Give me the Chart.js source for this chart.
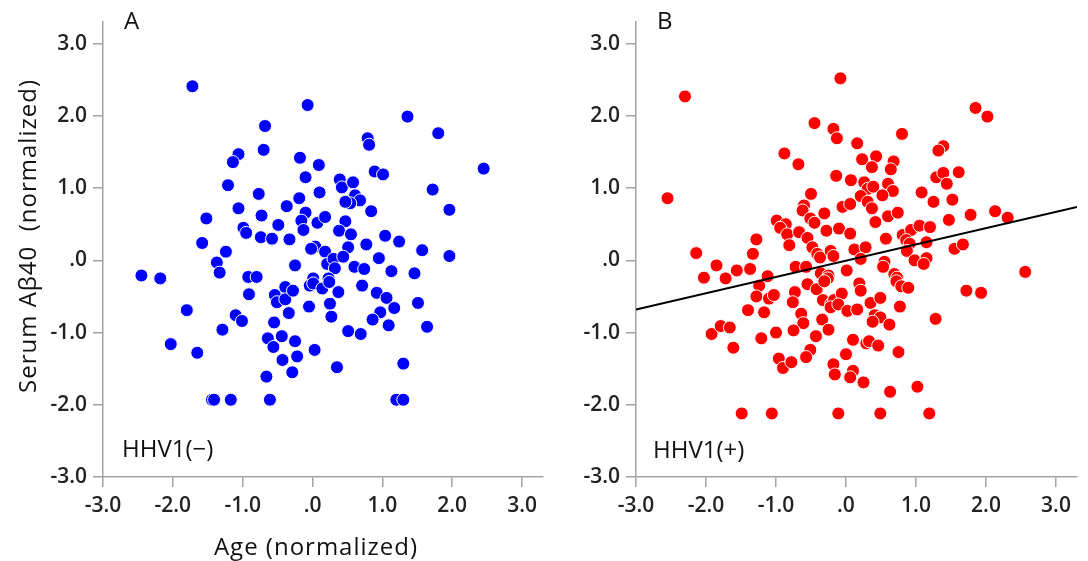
<!DOCTYPE html>
<html>
<head>
<meta charset="utf-8">
<script src="https://cdn.jsdelivr.net/npm/chart.js@4.4.0/dist/chart.umd.min.js"></script>
<style>
  html, body { margin: 0; padding: 0; background: #fff; }
  #wrap { position: relative; width: 1088px; height: 561px; overflow: hidden; }
  canvas { position: absolute; top: 0; }
  #panelA { left: 0; }
  #panelB { left: 550px; }
</style>
</head>
<body>
<div id="wrap">
  <canvas id="panelA" width="560" height="561"></canvas>
  <canvas id="panelB" width="538" height="561"></canvas>
</div>
<script>
// ---------- data ----------
const tickValues = [-3, -2, -1, 0, 1, 2, 3];
const tickLabels = ["-3.0", "-2.0", "-1.0", ".0", "1.0", "2.0", "3.0"];

// panel A: HHV1(-)
const ageNeg = [
  -1.72, -0.07, -0.68, -0.70, -1.06, -1.14, -0.18, 0.09, -0.10, -1.21,
  -0.77, 0.10, -0.19, -0.37, -1.06, -0.73, -0.10, -0.16, -0.13, 0.07,
  0.18, -1.52, -0.49, -0.99, -0.95, -0.74, -0.58, -0.33, -1.58, -1.24,
  -1.37, -1.33, -0.25, 0.04, -0.02, 0.18, 0.21, -2.45, -2.18, -0.92,
  -0.80, 1.36, 1.80, 0.79, 0.81, 2.45, 0.89, 1.01, 0.39, 0.42,
  0.58, 1.72, 0.61, 0.68, 0.54, 0.47, 1.96, 0.84, 0.47, 0.38,
  0.55, 1.04, 1.24, 0.77, 0.51, 0.30, 0.32, 0.44, 1.57, 1.96,
  0.95, 0.60, 0.74, 1.13, 1.46, 0.01, 0.23, -0.91, -1.80, -1.10,
  -1.01, -0.54, -0.51, -0.39, -0.39, -0.28, -0.34, -0.04, 0.01, -0.05,
  0.14, 0.24, 0.25, 0.27, -0.55, -1.29, -2.03, -1.65, -0.64, -0.56,
  -0.44, -0.25, -0.43, -0.22, -0.29, 0.03, -0.66, -0.61, -1.44, -1.41,
  -1.17, 0.37, 0.71, 0.92, 1.06, 1.17, 0.97, 0.86, 1.09, 0.51,
  0.69, 1.51, 1.64, 0.35, 1.30, 1.20, 1.30
];
const abNeg = [
  2.41, 2.15, 1.86, 1.53, 1.47, 1.36, 1.42, 1.32, 1.15, 1.04,
  0.92, 0.94, 0.86, 0.75, 0.72, 0.62, 0.66, 0.55, 0.42, 0.52,
  0.60, 0.58, 0.49, 0.45, 0.38, 0.32, 0.30, 0.29, 0.24, 0.12,
  -0.03, -0.17, -0.07, 0.19, 0.16, 0.12, -0.05, -0.21, -0.25, -0.23,
  -0.23, 1.99, 1.76, 1.69, 1.60, 1.27, 1.23, 1.19, 1.12, 1.01,
  1.08, 0.98, 0.90, 0.83, 0.79, 0.81, 0.70, 0.68, 0.54, 0.41,
  0.36, 0.34, 0.26, 0.22, 0.18, 0.02, -0.11, 0.05, 0.14, 0.06,
  0.03, -0.09, -0.12, -0.15, -0.18, -0.25, -0.25, -0.47, -0.69, -0.76,
  -0.84, -0.48, -0.58, -0.37, -0.54, -0.42, -0.73, -0.35, -0.32, -0.64,
  -0.39, -0.30, -0.60, -0.78, -0.86, -0.96, -1.16, -1.28, -1.08, -1.20,
  -1.05, -1.12, -1.38, -1.33, -1.55, -1.24, -1.61, -1.93, -1.93, -1.93,
  -1.93, -0.44, -0.35, -0.45, -0.52, -0.66, -0.72, -0.82, -0.90, -0.98,
  -1.02, -0.59, -0.92, -1.48, -1.43, -1.93, -1.93
];

// panel B: HHV1(+)
const agePos = [
  -2.30, -2.55, -0.08, -0.45, -0.18, -0.13, -0.88, -0.68, -0.14, -0.50,
  -0.60, -0.62, -0.31, -0.51, -0.45, -0.99, -0.86, -0.94, -0.84, -0.81,
  -0.67, -0.55, -0.28, -0.10, -0.05, -1.28, -1.33, -2.14, -0.48, -0.41,
  -0.37, -0.22, -0.18, -1.85, -1.56, -1.37, -0.72, -0.57, -2.03, -1.72,
  -1.12, -0.36, -0.25, -1.24, -1.28, -1.10, -1.03, -0.55, -0.73, -0.76,
  -1.40, -1.17, -0.64, -0.61, -0.42, -0.33, -0.26, -0.31, -0.21, -0.17,
  -0.22, -0.06, -0.11, -0.34, -0.25, -0.43, -0.75, -1.00, -1.21, -1.92,
  -1.79, -1.66, -1.61, -0.51, -0.57, -0.96, -0.90, -0.78, -0.18, -0.16,
  0.00, -1.49, -1.06, -0.11, 1.85, 2.02, 0.80, 0.16, 1.39, 1.32,
  0.23, 0.43, 0.37, 0.68, 0.64, 0.07, 0.26, 0.31, 0.39, 0.60,
  0.67, 0.52, 0.21, 0.31, 0.37, 0.06, 1.29, 1.39, 1.61, 1.44,
  1.08, 1.25, 1.52, 0.60, 0.74, 0.42, 1.47, 1.78, 2.13, 2.31,
  0.06, 0.57, 0.81, 0.93, 1.05, 1.20, 0.86, 0.91, 0.87, 1.15,
  0.12, 0.28, 0.21, 0.55, 0.53, 0.98, 1.15, 1.11, 1.55, 1.67,
  2.56, 0.01, 0.69, 0.73, 1.72, 1.93, 1.28, 0.19, 0.21, 0.72,
  0.79, 0.89, 0.02, 0.16, 0.35, 0.49, 0.77, 0.41, 0.49, 0.38,
  0.62, 0.10, 0.29, 0.33, 0.46, 0.75, 0.10, 0.06, 0.25, 0.63,
  1.02, 0.49, 1.19
];
const abPos = [
  2.27, 0.86, 2.52, 1.90, 1.82, 1.69, 1.48, 1.33, 1.17, 0.92,
  0.76, 0.69, 0.65, 0.58, 0.52, 0.55, 0.50, 0.45, 0.36, 0.21,
  0.39, 0.31, 0.41, 0.44, 0.74, 0.29, 0.09, 0.10, 0.18, 0.09,
  0.04, 0.13, 0.06, -0.07, -0.14, -0.12, -0.09, -0.09, -0.24, -0.25,
  -0.22, -0.18, -0.21, -0.35, -0.50, -0.53, -0.48, -0.33, -0.44, -0.58,
  -0.69, -0.72, -0.74, -0.87, -0.40, -0.55, -0.25, -0.29, -0.60, -0.55,
  -0.65, -0.46, -0.61, -0.82, -0.96, -1.05, -0.97, -1.00, -1.08, -1.02,
  -0.91, -0.93, -1.21, -1.24, -1.34, -1.36, -1.49, -1.41, -1.44, -1.58,
  -1.30, -2.12, -2.12, -2.12, 2.11, 1.99, 1.75, 1.62, 1.58, 1.52,
  1.40, 1.44, 1.29, 1.37, 1.26, 1.11, 1.08, 0.99, 1.02, 1.06,
  0.96, 0.90, 0.89, 0.81, 0.72, 0.78, 1.15, 1.21, 1.22, 1.06,
  0.94, 0.81, 0.84, 0.61, 0.66, 0.53, 0.56, 0.63, 0.68, 0.59,
  0.37, 0.30, 0.35, 0.42, 0.48, 0.46, 0.28, 0.23, 0.13, 0.25,
  0.15, 0.18, 0.02, -0.02, -0.09, 0.00, 0.03, -0.05, 0.16, 0.22,
  -0.16, -0.14, -0.19, -0.24, -0.42, -0.45, -0.81, -0.32, -0.42, -0.29,
  -0.36, -0.38, -0.70, -0.68, -0.59, -0.52, -0.64, -0.76, -0.79, -0.85,
  -0.89, -1.10, -1.15, -1.12, -1.18, -1.27, -1.53, -1.62, -1.69, -1.82,
  -1.75, -2.12, -2.12
];

// fitted line in panel B (end points)
const fitAge = [-3.0, 3.3];
const fitAb  = [-0.68, 0.74];

// ---------- styling ----------
const AXIS = "#a3a3a3";
const TICK_FONT = { family: "'Open Sans', sans-serif", size: 21, weight: 600 };
const LABEL_FONT = "500 24px 'Open Sans', sans-serif";

const toPoints = (xs, ys) => xs.map((x, i) => ({ x, y: ys[i] }));

// panel letters, group labels and axis titles
const panelText = {
  id: "panelText",
  afterDraw(chart, args, opts) {
    const ctx = chart.ctx;
    for (const t of opts.items || []) {
      ctx.save();
      ctx.font = t.font || LABEL_FONT;
      ctx.letterSpacing = t.spacing || "0px";
      ctx.fillStyle = "#111";
      ctx.textAlign = t.align || "left";
      ctx.textBaseline = t.baseline || "alphabetic";
      ctx.translate(t.x, t.y);
      if (t.rotate) ctx.rotate(t.rotate);
      ctx.fillText(t.text, 0, 0);
      ctx.restore();
    }
  },
};

function axis(fitFn) {
  return {
    type: "linear",
    min: -3,
    max: 3.3,
    afterBuildTicks: (s) => { s.ticks = tickValues.map((v) => ({ value: v })); },
    afterFit: fitFn,
    grid: { drawOnChartArea: false, drawTicks: true, tickLength: 10, color: AXIS, lineWidth: 1.5 },
    border: { display: true, color: AXIS, width: 1.5 },
    ticks: {
      font: TICK_FONT,
      color: "#222",
      padding: 6,
      maxRotation: 0,
      autoSkip: false,
      callback: (v) => tickLabels[tickValues.indexOf(v)],
    },
  };
}

function makePanel(id, datasets, yWidth, padRight, items) {
  return new Chart(document.getElementById(id), {
    type: "scatter",
    data: { datasets },
    options: {
      responsive: false,
      animation: false,
      events: [],
      devicePixelRatio: 1,
      layout: { padding: { top: 22, right: padRight, left: 0, bottom: 0 } },
      plugins: { legend: { display: false }, tooltip: { enabled: false }, panelText: { items } },
      scales: {
        x: axis((s) => { s.height = 84; }),
        y: axis((s) => { s.width = yWidth; }),
      },
    },
    plugins: [panelText],
  });
}

// ---------- panel A ----------
makePanel("panelA", [{
  data: toPoints(ageNeg, abNeg),
  backgroundColor: "#0000ff",
  borderColor: "#ffffff",
  borderWidth: 1,
  pointRadius: 6.5,
}], 103, 17, [
  { text: "A", x: 124, y: 29 },
  { text: "HHV1(−)", x: 122, y: 457 },
  { text: "Serum Aβ40  (normalized)", x: 29, y: 236, rotate: -Math.PI / 2, align: "center", baseline: "middle", spacing: "1px" },
  { text: "Age (normalized)", x: 316, y: 548, align: "center", baseline: "middle", spacing: "1px" },
]);

// ---------- panel B ----------
makePanel("panelB", [
  {
    type: "line",
    data: toPoints(fitAge, fitAb),
    borderColor: "#000",
    borderWidth: 2,
    pointRadius: 0,
    fill: false,
    order: 0,
  },
  {
    data: toPoints(agePos, abPos),
    backgroundColor: "#ff0000",
    borderColor: "#ffffff",
    borderWidth: 1,
    pointRadius: 6.5,
    order: 1,
  },
], 86, 11, [
  { text: "B", x: 107, y: 29 },
  { text: "HHV1(+)", x: 103, y: 458 },
]);
</script>
</body>
</html>
